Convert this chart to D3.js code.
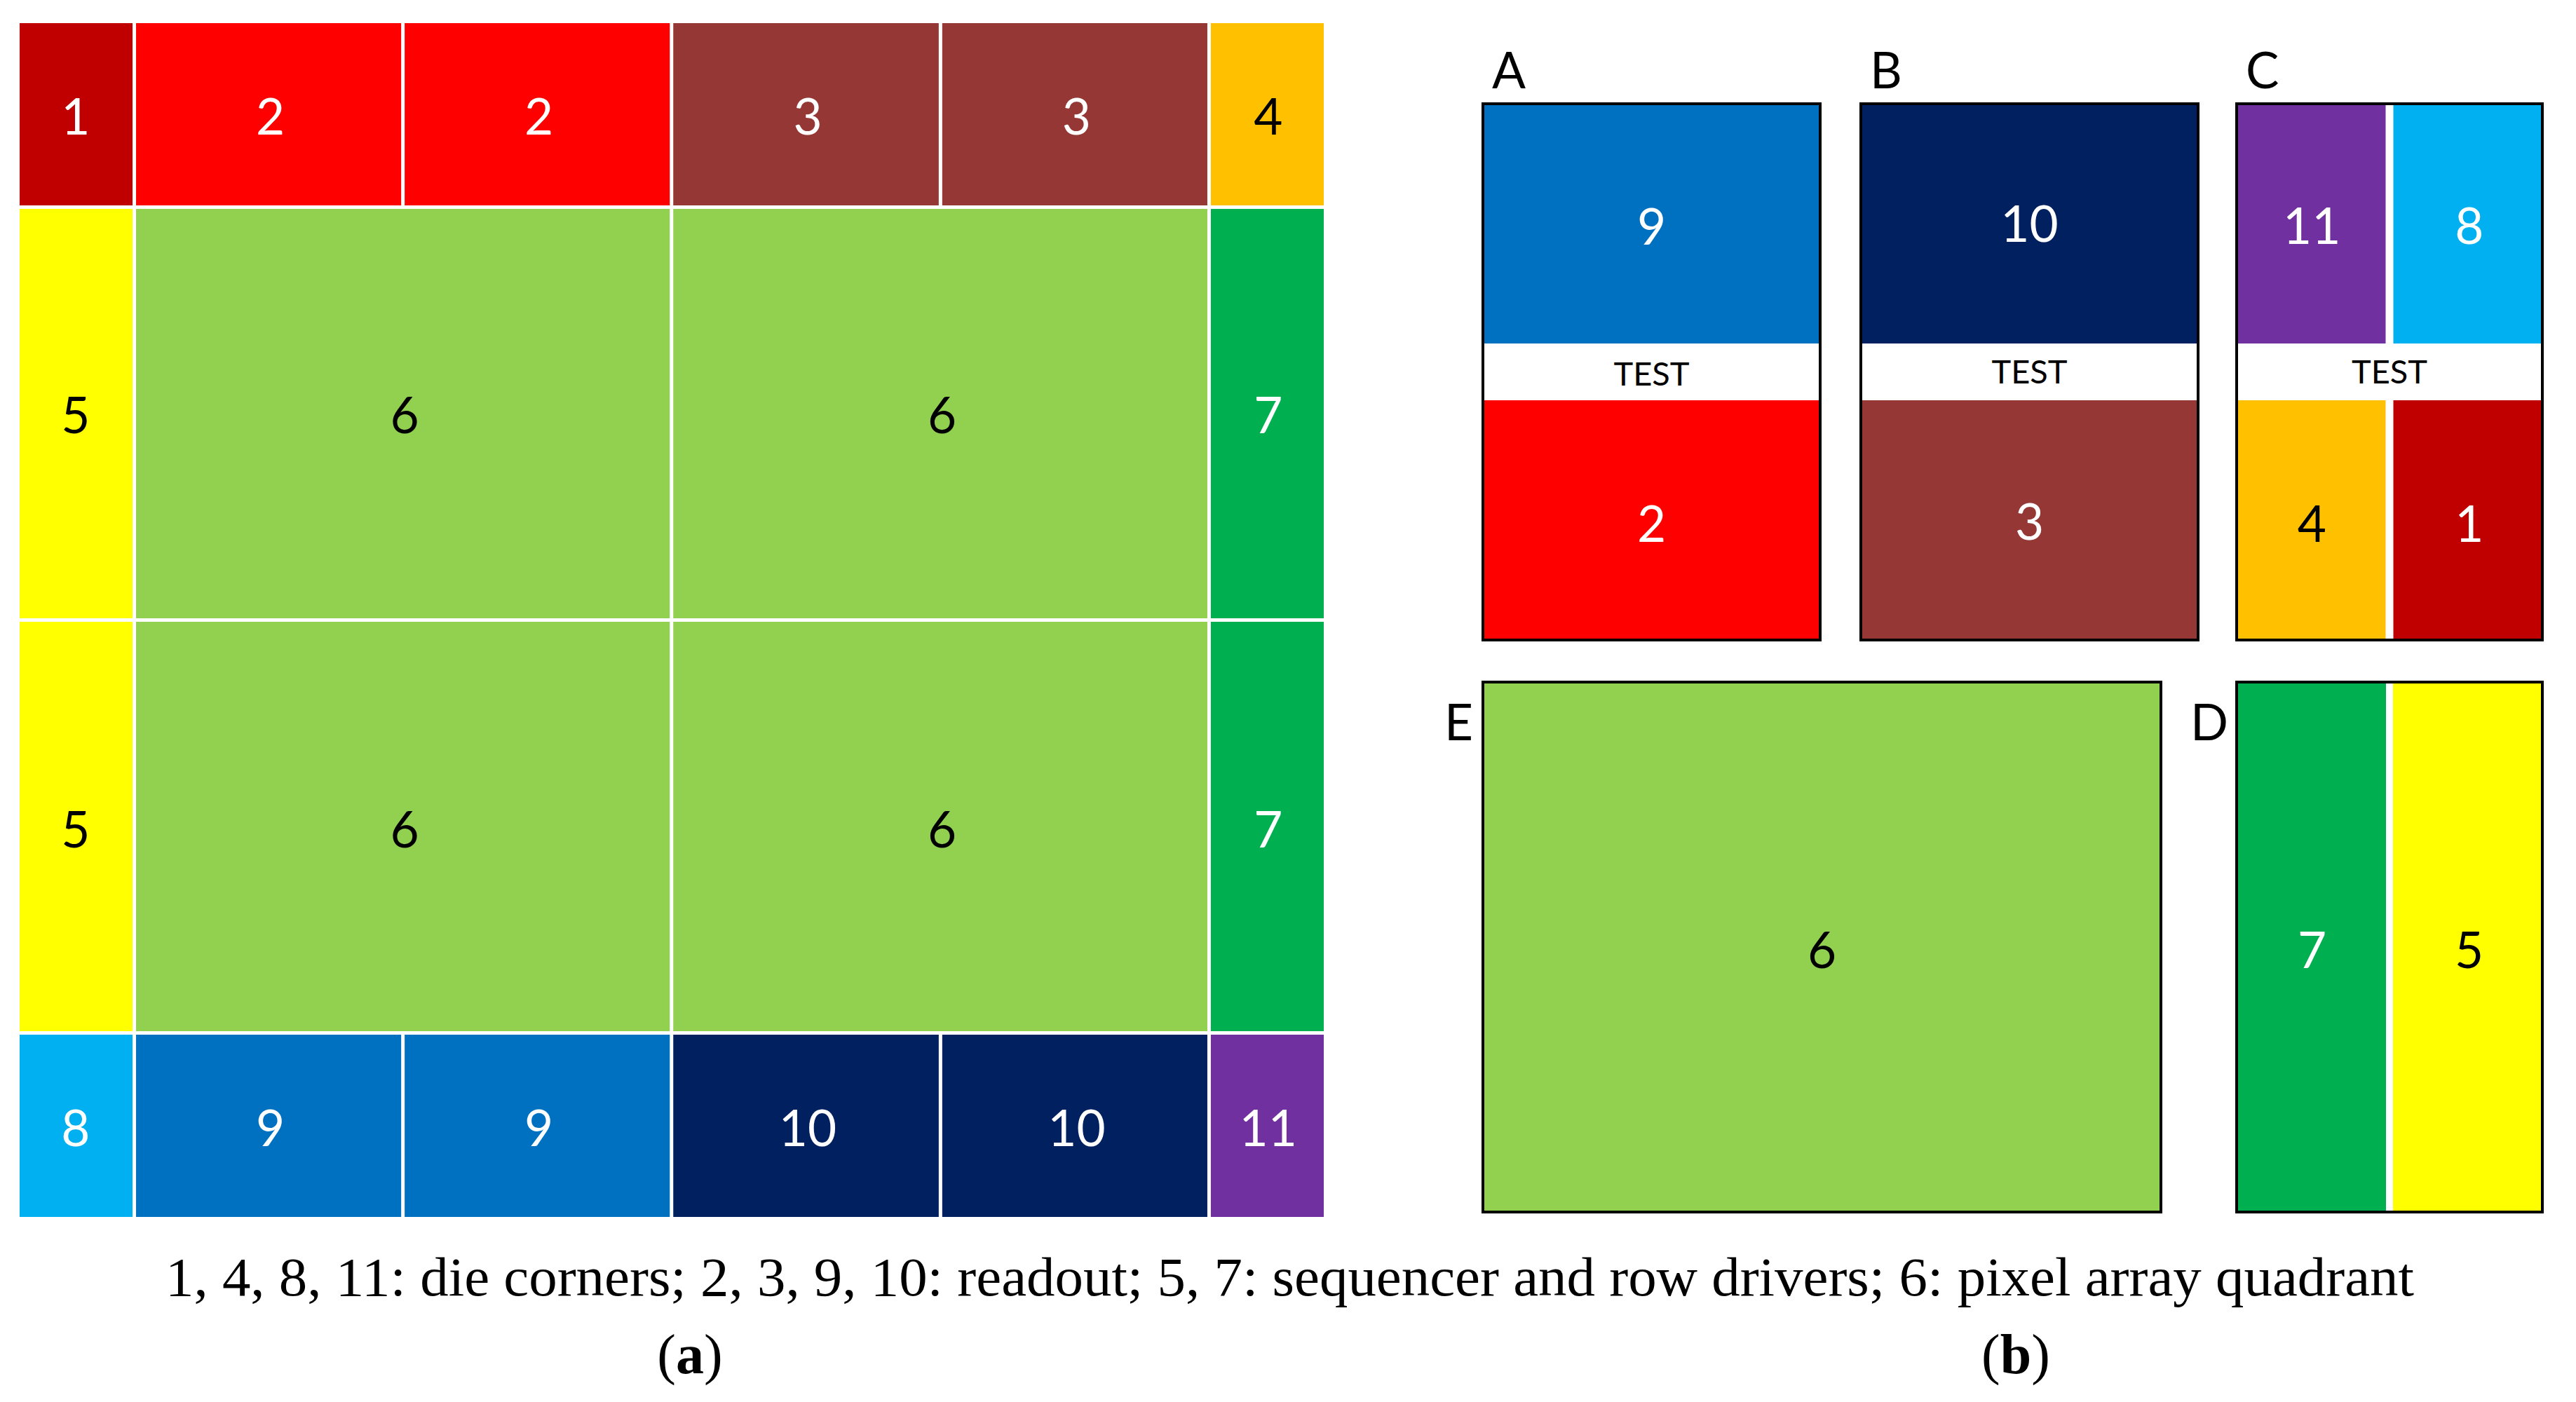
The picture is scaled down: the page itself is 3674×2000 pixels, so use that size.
<!DOCTYPE html>
<html>
<head>
<meta charset="utf-8">
<title></title>
<script src="https://cdn.jsdelivr.net/npm/d3@7/dist/d3.min.js"></script>
<style>
html, body { margin: 0; background: #fff; }
svg { display: block; }
</style>
</head>
<body>
<script>
const width = 3674
const height = 2000

// die floorplan, block numbers per row and how many grid columns each spans
const dieRows = [
  [1, 2, 2, 3, 3, 4],
  [5, 6, 6, 7],
  [5, 6, 6, 7],
  [8, 9, 9, 10, 10, 11]
]
const dieSpans = [
  [1, 1, 1, 1, 1, 1],
  [1, 2, 2, 1],
  [1, 2, 2, 1],
  [1, 1, 1, 1, 1, 1]
]
// grid sizes
const dieColSizes = [163.5, 383, 383, 383.5, 383, 163.5]
const dieRowSizes = [262.5, 589, 589, 262.5]

// test blocks, top and bottom parts
const panelNames = ['A', 'B', 'C']
const panelTop = [[9], [10], [11, 8]]
const panelBottom = [[2], [3], [4, 1]]
const panelText = 'TEST'
const lowerNames = ['E', 'D']
const lowerBlocks = [[6], [7, 5]]

const caption = '1, 4, 8, 11: die corners; 2, 3, 9, 10: readout; 5, 7: sequencer and row drivers; 6: pixel array quadrant'
const partNames = ['a', 'b']

const blockIds = [1, 2, 3, 4, 5, 6, 7, 8, 9, 10, 11]
const blockColors = ['#C00000', '#FF0000', '#953735', '#FFC000', '#FFFF00', '#92D050', '#00B050', '#00B0F0', '#0070C0', '#002060', '#7030A0']
const darkText = [4, 5, 6]

const color = d3.scaleOrdinal().domain(blockIds).range(blockColors)
const labelFill = d => darkText.includes(d) ? '#000' : '#fff'
const labelFont = 'Lato, sans-serif'
const labelSize = 71

const svg = d3.select('body').append('svg')
  .attr('width', width)
  .attr('height', height)

// die, (a)
const x = d3.scaleLinear().domain([0, d3.sum(dieColSizes)]).range([28, 1888])
const y = d3.scaleLinear().domain([0, d3.sum(dieRowSizes)]).range([33, 1736])
const colEdges = [0, ...d3.cumsum(dieColSizes)]
const rowEdges = [0, ...d3.cumsum(dieRowSizes)]

dieRows.forEach((row, r) => {
  let col = 0
  row.forEach((id, i) => {
    const next = col + dieSpans[r][i]
    const x0 = x(colEdges[col])
    const x1 = x(colEdges[next])
    const y0 = y(rowEdges[r])
    const y1 = y(rowEdges[r + 1])
    // white separators between the blocks, none on the outer edge
    const l = col === 0 ? x0 : x0 + 2.5
    const rr = next === dieColSizes.length ? x1 : x1 - 2.5
    const t = r === 0 ? y0 : y0 + 2.5
    const b = r === dieRows.length - 1 ? y1 : y1 - 2.5
    svg.append('rect')
      .attr('x', l).attr('y', t)
      .attr('width', rr - l).attr('height', b - t)
      .attr('fill', color(id))
    svg.append('text')
      .attr('x', (x0 + x1) / 2 + (col === 0 ? -2 : 2.5))
      .attr('y', (y0 + y1) / 2 + (r > 1 ? 30 : 28))
      .attr('text-anchor', 'middle')
      .attr('font-family', labelFont)
      .attr('font-size', labelSize)
      .attr('fill', labelFill(id))
      .text(id)
    col = next
  })
})

// one framed panel, blocks laid out across with a band scale
function blockRow(ids, frame, y0, y1, gap, baseline) {
  const inner = frame.w - 4
  const band = d3.scaleBand()
    .domain(d3.range(ids.length))
    .range([frame.x + 2, frame.x + frame.w - 2])
    .paddingInner(ids.length > 1 ? gap / ((inner + gap) / 2) : 0)
  ids.forEach((id, i) => {
    svg.append('rect')
      .attr('x', band(i)).attr('y', y0)
      .attr('width', band.bandwidth()).attr('height', y1 - y0)
      .attr('fill', color(id))
    svg.append('text')
      .attr('x', band(i) + band.bandwidth() / 2 + (i === 1 ? 3 : 0))
      .attr('y', baseline)
      .attr('text-anchor', 'middle')
      .attr('font-family', labelFont)
      .attr('font-size', labelSize)
      .attr('fill', labelFill(id))
      .text(id)
  })
}

function frameBox(frame) {
  svg.append('rect')
    .attr('x', frame.x).attr('y', frame.y)
    .attr('width', frame.w).attr('height', frame.h)
    .attr('fill', 'none')
    .attr('stroke', '#000')
    .attr('stroke-width', 4)
}

function letter(t, px, py) {
  svg.append('text')
    .attr('x', px).attr('y', py)
    .attr('font-family', labelFont)
    .attr('font-size', labelSize)
    .text(t)
}

// layout of the test panels, (b)
const panelFrames = [
  { x: 2115, y: 148, w: 481, h: 765 },
  { x: 2654, y: 148, w: 481, h: 765 },
  { x: 3190, y: 148, w: 436, h: 765 }
]
const panelLetterX = [2128, 2667, 3203]
const topBaseline = [349, 345, 348]
const bottomBaseline = [773, 770, 773]
const testBaseline = [550, 547, 547]

panelNames.forEach((name, i) => {
  const f = panelFrames[i]
  blockRow(panelTop[i], f, f.y, 490, 11, topBaseline[i])
  blockRow(panelBottom[i], f, 571, f.y + f.h, 11, bottomBaseline[i])
  frameBox(f)
  letter(name, panelLetterX[i], 126)
  svg.append('text')
    .attr('x', f.x + f.w / 2)
    .attr('y', testBaseline[i])
    .attr('text-anchor', 'middle')
    .attr('font-family', labelFont)
    .attr('font-size', 47)
    .text(panelText)
})

const lowerFrames = [
  { x: 2115, y: 973, w: 967, h: 756 },
  { x: 3190, y: 973, w: 436, h: 756 }
]
const lowerLetterX = [2060, 3124]

lowerNames.forEach((name, i) => {
  const f = lowerFrames[i]
  blockRow(lowerBlocks[i], f, f.y, f.y + f.h, 10, 1381)
  frameBox(f)
  letter(name, lowerLetterX[i], 1056)
})

// caption, Palatino in the original
svg.append('text')
  .attr('x', 236)
  .attr('y', 1848)
  .attr('textLength', 3207)
  .attr('lengthAdjust', 'spacingAndGlyphs')
  .attr('font-family', '"Liberation Serif", serif')
  .attr('font-size', 78)
  .text(caption)

const partX = [984, 2875]
partNames.forEach((p, i) => {
  const t = svg.append('text')
    .attr('x', partX[i])
    .attr('y', 1959)
    .attr('text-anchor', 'middle')
    .attr('font-family', '"Liberation Serif", serif')
    .attr('font-size', 80)
  t.append('tspan').text('(')
  t.append('tspan').attr('font-weight', 'bold').text(p)
  t.append('tspan').text(')')
})
</script>
</body>
</html>
